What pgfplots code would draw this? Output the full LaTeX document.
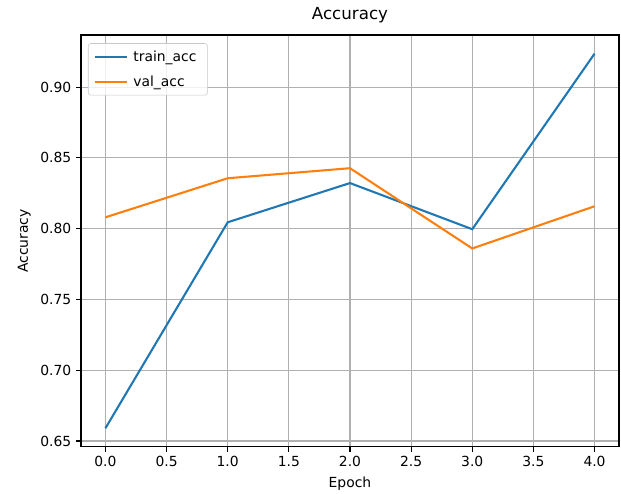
\documentclass[border=0pt]{standalone}
\usepackage{pgfplots}
\pgfplotsset{compat=1.18}
\usepackage{fontspec}
\setmainfont{DejaVu Sans}
\definecolor{mplblue}{HTML}{1F77B4}
\definecolor{mplorange}{HTML}{FF7F0E}
\definecolor{mplgrid}{HTML}{B0B0B0}
\begin{document}
\begin{tikzpicture}
\begin{axis}[
  scale only axis,
  width=387.4pt, height=296.6pt,
  xmin=-0.2, xmax=4.2,
  ymin=0.6458, ymax=0.9368,
  xtick={0,0.5,...,4},
  ytick={0.65,0.70,0.75,0.80,0.85,0.90},
  xticklabel style={/pgf/number format/.cd,fixed,precision=1,zerofill},
  yticklabel style={/pgf/number format/.cd,fixed,precision=2,zerofill},
  /pgf/number format/assume math mode=true,
  tick label style={font=\fontsize{10}{12}\selectfont},
  label style={font=\fontsize{10}{12}\selectfont},
  title style={font=\fontsize{12}{14}\selectfont, yshift=-1pt},
  title={Accuracy},
  xlabel={Epoch}, ylabel={Accuracy},
  grid=major,
  major grid style={mplgrid, line width=0.8pt},
  axis line style={line width=0.8pt},
  tick align=outside,
  major tick length=3.5pt,
  every tick/.style={black, line width=0.8pt},
  xtick pos=bottom, ytick pos=left,
  legend style={font=\fontsize{10}{12}\selectfont, draw=mplgrid!70, rounded corners=2pt, fill=white, fill opacity=0.8, text opacity=1, at={(0.013,0.98)}, anchor=north west, inner xsep=4pt, inner ysep=3pt, row sep=5pt,
    nodes={inner xsep=4pt}},
  legend cell align=left,
  legend image code/.code={\draw[#1, line width=1.5pt] (0pt,0pt) -- (23pt,0pt);},
]
\addplot[mplblue, line width=1.5pt] coordinates {(0,0.659) (1,0.8045) (2,0.8322) (3,0.7996) (4,0.9236)};
\addlegendentry{train\_acc}
\addplot[mplorange, line width=1.5pt] coordinates {(0,0.808) (1,0.8356) (2,0.8427) (3,0.786) (4,0.8158)};
\addlegendentry{val\_acc}
\end{axis}
\pgfresetboundingbox
\path (-58.3pt,-33.8pt) rectangle (388.84pt,321.8pt);
\end{tikzpicture}
\end{document}
